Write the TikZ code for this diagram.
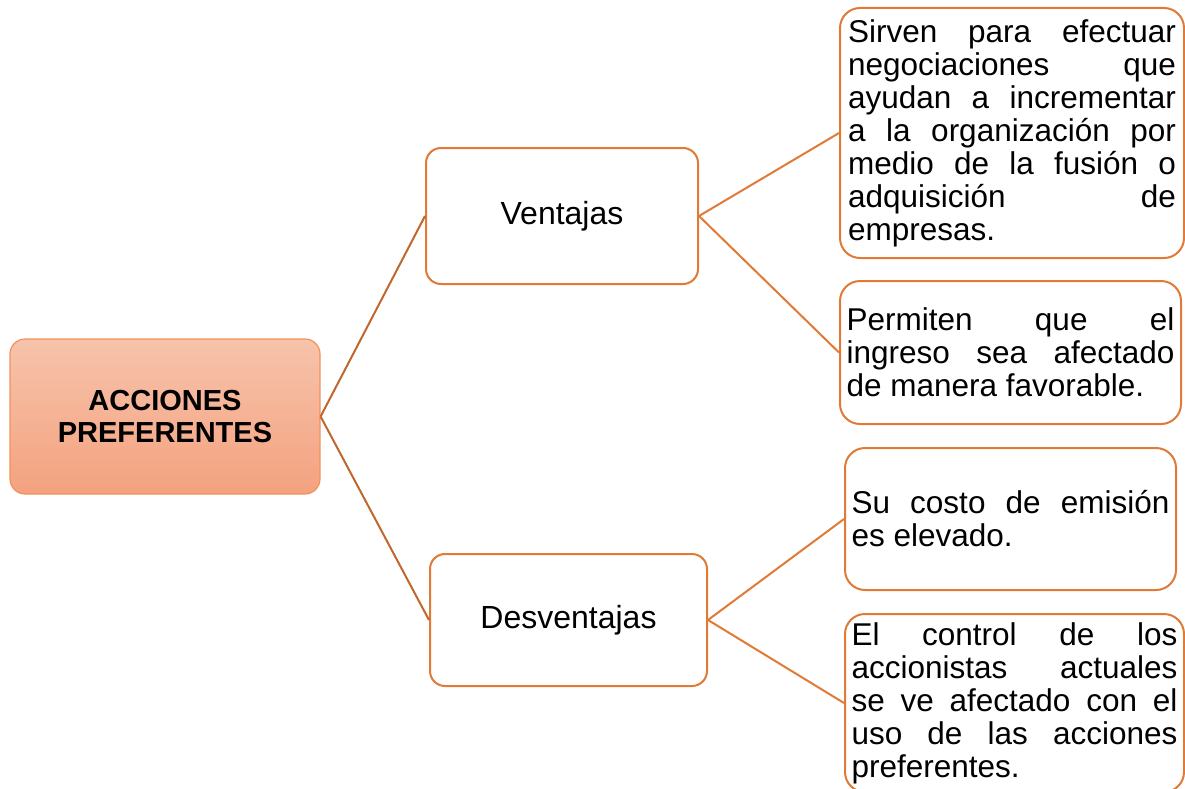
\documentclass[tikz,border=0pt]{standalone}
\usepackage{fontspec}
\setmainfont{Liberation Sans}
\definecolor{boxline}{HTML}{E07A34}
\definecolor{rootline}{HTML}{F0935A}
\definecolor{roottop}{HTML}{F7C3AB}
\definecolor{rootbot}{HTML}{F4A27F}
\definecolor{linkdark}{HTML}{C0672E}
\tolerance=9999
\hyphenpenalty=10000
\tikzset{
  rootbox/.style={draw=rootline, line width=1.2pt, rounded corners=15pt, top color=roottop, bottom color=rootbot,
    align=center, inner sep=0pt, font=\fontsize{29}{32}\selectfont\bfseries},
  midbox/.style={draw=boxline, line width=2pt, rounded corners=15pt, fill=white,
    align=center, inner sep=0pt, font=\fontsize{32}{37}\selectfont},
  notebox/.style={draw=boxline, line width=2pt, rounded corners=20pt, fill=white,
    align=justify, inner sep=0pt, font=\fontsize{31.5}{33}\selectfont},
  rootlink/.style={draw=linkdark, line width=2pt},
  notelink/.style={draw=boxline, line width=2pt}
}
\begin{document}
\begin{tikzpicture}[x=1pt, y=-1pt]
  \useasboundingbox (0,0) rectangle (1185,789);
  % main node and the two branches
  \node[rootbox, minimum width=310pt, minimum height=155pt] (acciones) at (165,416.5) {ACCIONES\\PREFERENTES};
  \node[midbox, minimum width=272pt, minimum height=136pt] (ventajas) at (562,216) {Ventajas};
  \node[midbox, minimum width=277pt, minimum height=132pt] (desventajas) at (568.5,620) {Desventajas};
  % notes
  \node[notebox, text width=328pt, minimum width=344pt, minimum height=250pt] (sirven) at (1012,133)
    {Sirven para efectuar\linebreak negociaciones que\linebreak ayudan a incrementar\linebreak a la organización por\linebreak medio de la fusión o\linebreak adquisición de\linebreak empresas.};
  \node[notebox, text width=328pt, minimum width=341pt, minimum height=143pt] (permiten) at (1010.5,352.5)
    {Permiten que el\linebreak ingreso sea afectado\linebreak de manera favorable.};
  \node[notebox, text width=318pt, minimum width=331pt, minimum height=142pt] (costo) at (1010.5,519)
    {Su costo de emisión\linebreak es elevado.};
  \node[notebox, text width=326pt, minimum width=339pt, minimum height=178pt] (control) at (1014.5,703)
    {El control de los\linebreak accionistas actuales\linebreak se ve afectado con el\linebreak uso de las acciones\linebreak preferentes.};
  % links
  \draw[rootlink] (acciones.east) -- (ventajas.west);
  \draw[rootlink] (acciones.east) -- (desventajas.west);
  \draw[notelink] (ventajas.east) -- (sirven.west);
  \draw[notelink] (ventajas.east) -- (permiten.west);
  \draw[notelink] (desventajas.east) -- (costo.west);
  \draw[notelink] (desventajas.east) -- (control.west);
\end{tikzpicture}
\end{document}
